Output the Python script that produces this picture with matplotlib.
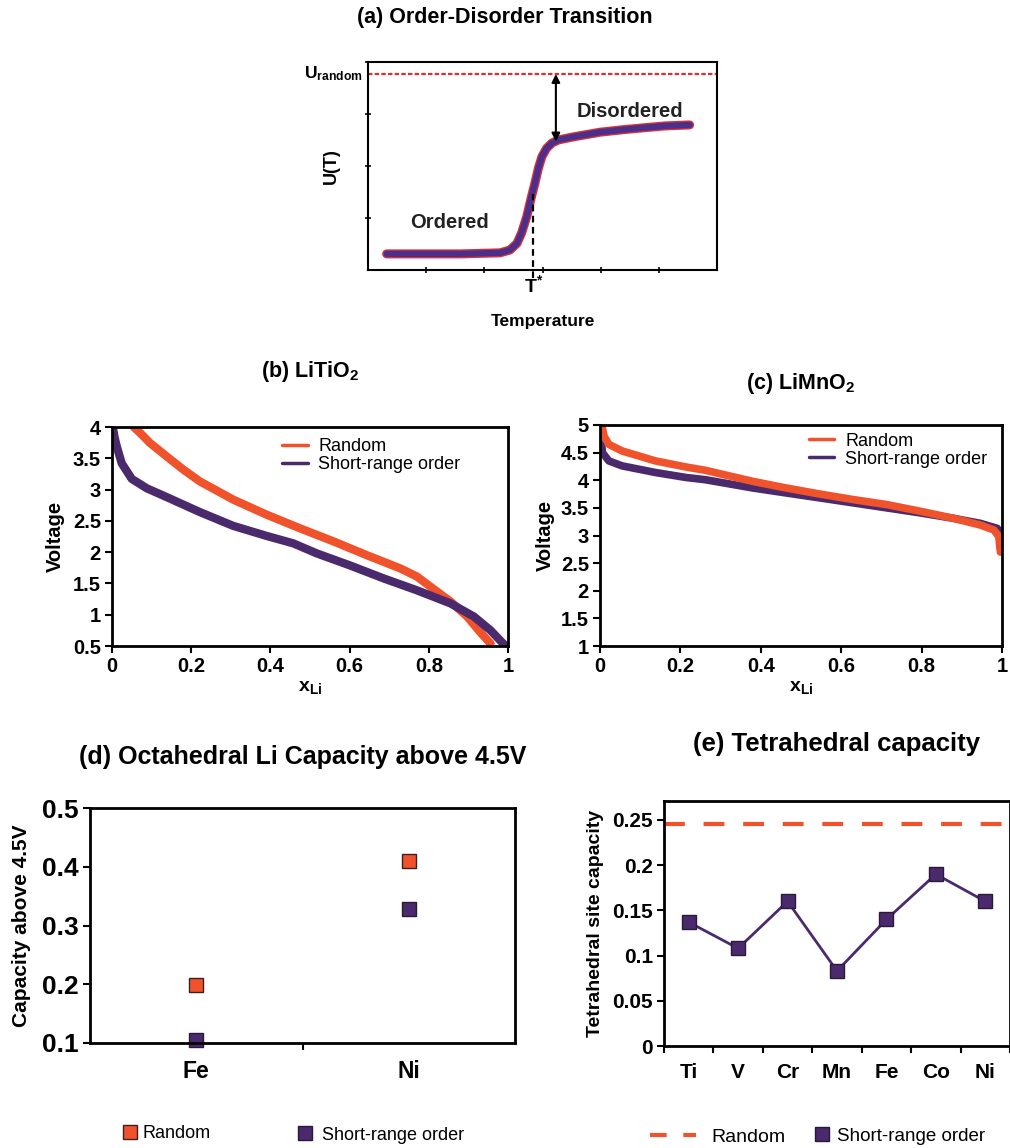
import matplotlib
matplotlib.use("Agg")
import matplotlib.pyplot as plt
from matplotlib.lines import Line2D

plt.rcParams['font.family'] = ['Liberation Sans', 'DejaVu Sans']
plt.rcParams['mathtext.fontset'] = 'custom'
plt.rcParams['mathtext.rm'] = 'Liberation Sans'
plt.rcParams['mathtext.bf'] = 'Liberation Sans:bold'
plt.rcParams['mathtext.it'] = 'Liberation Sans:italic'

RED = '#f0532c'
PURPLE = '#4a2a6c'

# DATA
# ==========================================
# (a) schematic U(T)
temp_a = [0.32, 1.0, 1.6, 1.93, 2.27, 2.44, 2.56, 2.64, 2.73, 2.81, 2.87, 2.93, 2.99, 3.07,
          3.16, 3.27, 3.53, 3.99, 4.4, 4.79, 5.1, 5.53]
u_a = [0.31, 0.31, 0.31, 0.32, 0.33, 0.385, 0.51, 0.71, 1.03, 1.41, 1.67, 1.96, 2.18, 2.34,
       2.44, 2.50, 2.56, 2.65, 2.70, 2.74, 2.77, 2.79]
u_random = 3.77
t_star = 2.84

# (b) LiTiO2
x_b_rand = [0.055, 0.075, 0.095, 0.138, 0.18, 0.222, 0.306, 0.39, 0.475, 0.56, 0.644, 0.728,
            0.77, 0.81, 0.855, 0.897, 0.93, 0.956]
v_b_rand = [4.0, 3.88, 3.75, 3.53, 3.32, 3.13, 2.84, 2.6, 2.38, 2.17, 1.95, 1.74,
            1.61, 1.42, 1.21, 0.97, 0.72, 0.54]
x_b_sro = [0.002, 0.006, 0.012, 0.0245, 0.05, 0.088, 0.138, 0.222, 0.306, 0.39, 0.458, 0.517,
           0.6, 0.686, 0.77, 0.855, 0.914, 0.956, 0.98, 0.994]
v_b_sro = [4.0, 3.85, 3.69, 3.42, 3.17, 3.02, 2.88, 2.64, 2.42, 2.26, 2.14, 1.98,
           1.79, 1.58, 1.39, 1.18, 0.97, 0.75, 0.59, 0.5]

# (c) LiMnO2
x_c_rand = [0.002, 0.006, 0.01, 0.022, 0.055, 0.138, 0.214, 0.262, 0.38, 0.463, 0.547, 0.63,
            0.713, 0.796, 0.88, 0.946, 0.98, 0.992, 0.996]
v_c_rand = [5.0, 4.95, 4.8, 4.65, 4.53, 4.35, 4.24, 4.18, 3.98, 3.86, 3.75, 3.65,
            3.56, 3.44, 3.31, 3.19, 3.1, 2.98, 2.7]
x_c_sro = [0.002, 0.004, 0.006, 0.022, 0.055, 0.138, 0.214, 0.262, 0.38, 0.463, 0.547, 0.63,
           0.713, 0.796, 0.88, 0.946, 0.988, 1.0]
v_c_sro = [4.78, 4.68, 4.5, 4.35, 4.26, 4.14, 4.05, 4.01, 3.86, 3.77, 3.68, 3.59,
           3.5, 3.41, 3.31, 3.22, 3.13, 3.03]

# (d) octahedral capacity above 4.5V
metals_d = ['Fe', 'Ni']
cap_d_rand = [0.198, 0.41]
cap_d_sro = [0.105, 0.328]

# (e) tetrahedral capacity
metals_e = ['Ti', 'V', 'Cr', 'Mn', 'Fe', 'Co', 'Ni']
tet_sro = [0.137, 0.108, 0.16, 0.083, 0.14, 0.19, 0.16]
tet_random = 0.246

W, H = 1010, 1148
fig = plt.figure(figsize=(W / 100, H / 100), dpi=100)


def ax_px(l, t, r, b):
    return fig.add_axes([l / W, 1 - b / H, (r - l) / W, (b - t) / H])


def style(ax, size=14.5, lw=2.0):
    for s in ax.spines.values():
        s.set_linewidth(lw)
        s.set_color('black')
    ax.tick_params(width=1.5, length=5, labelsize=size, pad=3)
    for lab in ax.get_xticklabels() + ax.get_yticklabels():
        lab.set_fontweight('bold')


# (a) ORDER-DISORDER
# ==========================================
ax = ax_px(368, 62, 717, 270)
ax.set_xlim(0, 6)
ax.set_ylim(0, 4)
ax.set_xticks([1, 2, 3, 4, 5])
ax.set_yticks([1, 2, 3, 4])
ax.set_xticklabels([])
ax.set_yticklabels([])
for s in ax.spines.values():
    s.set_linewidth(1.5)
ax.tick_params(direction='inout', length=5, width=1.2)
ax.axhline(u_random, color='#d8303a', lw=1.6, ls=(0, (2, 1)))
ax.plot(temp_a, u_a, color='#d8303a', lw=6.5, solid_capstyle='round', solid_joinstyle='round')
ax.plot(temp_a, u_a, color='#4b2f8a', lw=4.5, solid_capstyle='round', solid_joinstyle='round')
ax.plot([t_star, t_star], [-0.15, 1.47], color='black', lw=1.6, ls=(0, (3, 2)), clip_on=False)
ax.annotate('', xy=(3.23, 2.47), xytext=(3.23, u_random),
            arrowprops=dict(arrowstyle='<|-|>', lw=1.5, color='black', mutation_scale=12,
                            shrinkA=0, shrinkB=0))
ax.text(1.4, 0.8, 'Ordered', fontsize=14.5, fontweight='bold', color='#222222', ha='center')
ax.text(4.5, 2.95, 'Disordered', fontsize=14.5, fontweight='bold', color='#222222', ha='center')
ax.text(-0.015, u_random, r'U$_{\mathbf{random}}$', fontsize=12.5, fontweight='bold',
        ha='right', va='center', transform=ax.get_yaxis_transform())
ax.text(t_star, -0.08, r'T$^{\mathbf{*}}$', fontsize=14, fontweight='bold', ha='center', va='top')
ax.set_ylabel('U(T)', fontsize=13, fontweight='bold', labelpad=14)
ax.set_xlabel('Temperature', fontsize=12.5, fontweight='bold', labelpad=26)
fig.text(505 / W, 1 - 18 / H, '(a) Order-Disorder Transition', fontsize=15.5,
         fontweight='bold', ha='center', va='center')

# (b) LiTiO2
# ==========================================
ax = ax_px(112, 427, 508, 646)
ax.plot(x_b_rand, v_b_rand, color=RED, lw=6, label='Random', solid_capstyle='round')
ax.plot(x_b_sro, v_b_sro, color=PURPLE, lw=6, label='Short-range order', solid_capstyle='round')
ax.set_xlim(0, 1)
ax.set_ylim(0.5, 4)
ax.set_xticks([0, 0.2, 0.4, 0.6, 0.8, 1])
ax.set_xticklabels(['0', '0.2', '0.4', '0.6', '0.8', '1'])
ax.set_yticks([0.5, 1, 1.5, 2, 2.5, 3, 3.5, 4])
ax.set_yticklabels(['0.5', '1', '1.5', '2', '2.5', '3', '3.5', '4'])
style(ax)
ax.set_ylabel('Voltage', fontsize=14.5, fontweight='bold', labelpad=6)
ax.set_xlabel(r'x$_{\mathbf{Li}}$', fontsize=14, fontweight='bold', labelpad=2)
leg = ax.legend(loc='upper left', bbox_to_anchor=(0.43, 0.95), frameon=False, fontsize=13,
                handlelength=1.4, handletextpad=0.6, labelspacing=0.05, borderpad=0,
                borderaxespad=0)
for h in leg.get_lines():
    h.set_linewidth(2.5)
ax.set_title(r'(b) LiTiO$_{\mathbf{2}}$', fontsize=15.5, fontweight='bold', pad=36)

# (c) LiMnO2
# ==========================================
ax = ax_px(600, 425, 1002, 646)
ax.plot(x_c_rand, v_c_rand, color=RED, lw=5.5, label='Random', solid_capstyle='round')
ax.plot(x_c_sro, v_c_sro, color=PURPLE, lw=5.5, label='Short-range order', solid_capstyle='round',
        zorder=1.9)
ax.set_xlim(0, 1)
ax.set_ylim(1, 5)
ax.set_xticks([0, 0.2, 0.4, 0.6, 0.8, 1])
ax.set_xticklabels(['0', '0.2', '0.4', '0.6', '0.8', '1'])
ax.set_yticks([1, 1.5, 2, 2.5, 3, 3.5, 4, 4.5, 5])
ax.set_yticklabels(['1', '1.5', '2', '2.5', '3', '3.5', '4', '4.5', '5'])
style(ax)
ax.set_ylabel('Voltage', fontsize=14.5, fontweight='bold', labelpad=4)
ax.set_xlabel(r'x$_{\mathbf{Li}}$', fontsize=14, fontweight='bold', labelpad=2)
leg = ax.legend(loc='upper left', bbox_to_anchor=(0.52, 0.965), frameon=False, fontsize=13,
                handlelength=1.4, handletextpad=0.6, labelspacing=0.05, borderpad=0,
                borderaxespad=0)
for h in leg.get_lines():
    h.set_linewidth(2.5)
ax.set_title(r'(c) LiMnO$_{\mathbf{2}}$', fontsize=15.5, fontweight='bold', pad=26)

# (d) OCTAHEDRAL CAPACITY
# ==========================================
ax = ax_px(90, 808, 515, 1043)
xd = range(len(metals_d))
ax.plot(xd, cap_d_rand, ls='none', marker='s', ms=10, mfc=RED, mec='#3a2020', mew=1, clip_on=False)
ax.plot(xd, cap_d_sro, ls='none', marker='s', ms=10, mfc=PURPLE, mec='#2a1a3a', mew=1, clip_on=False)
ax.set_xlim(-0.5, 1.5)
ax.set_ylim(0.1, 0.5)
ax.set_xticks([0.5])
ax.set_xticklabels([])
ax.set_xticks(list(xd), minor=True)
ax.set_xticklabels(metals_d, minor=True)
ax.set_yticks([0.1, 0.2, 0.3, 0.4, 0.5])
style(ax, size=19)
ax.tick_params(axis='x', which='minor', length=0, pad=12, labelsize=16.5)
for lab in ax.get_xticklabels(minor=True):
    lab.set_fontweight('bold')
ax.set_ylabel('Capacity above 4.5V', fontsize=15, fontweight='bold', labelpad=8)
ax.set_title('(d) Octahedral Li Capacity above 4.5V', fontsize=18, fontweight='bold', pad=32)
h1 = Line2D([], [], ls='none', marker='s', ms=10, mfc=RED, mec='#3a2020', mew=1)
h2 = Line2D([], [], ls='none', marker='s', ms=10, mfc=PURPLE, mec='#2a1a3a', mew=1)
fig.legend([h1], ['Random'], loc='center left', bbox_to_anchor=(105 / W, 1 - 1134 / H),
           frameon=False, fontsize=13, handletextpad=0.2, handlelength=1.0)
fig.legend([h2], ['Short-range order'], loc='center left', bbox_to_anchor=(280 / W, 1 - 1135 / H),
           frameon=False, fontsize=13, handletextpad=0.4, handlelength=1.0)

# (e) TETRAHEDRAL CAPACITY
# ==========================================
ax = ax_px(664, 801, 1010, 1046)
xe = range(len(metals_e))
ax.axhline(tet_random, color=RED, lw=3, ls=(0, (5, 4.5)))
ax.plot(xe, tet_sro, color=PURPLE, lw=2, marker='s', ms=10, mfc=PURPLE, mec='#2a1a3a', mew=1)
ax.set_xlim(-0.5, 6.5)
ax.set_ylim(0, 0.271)
ax.set_xticks([i - 0.5 for i in range(8)])
ax.set_xticklabels([])
ax.set_xticks(list(xe), minor=True)
ax.set_xticklabels(metals_e, minor=True)
ax.set_yticks([0, 0.05, 0.1, 0.15, 0.2, 0.25])
ax.set_yticklabels(['0', '0.05', '0.1', '0.15', '0.2', '0.25'])
style(ax, size=15)
ax.tick_params(axis='x', which='minor', length=0, pad=12, labelsize=15)
for lab in ax.get_xticklabels(minor=True):
    lab.set_fontweight('bold')
ax.set_ylabel('Tetrahedral site capacity', fontsize=14, fontweight='bold', labelpad=6)
ax.set_title('(e) Tetrahedral capacity', fontsize=18.5, fontweight='bold', pad=36)
h3 = Line2D([], [], color=RED, lw=3, ls=(0, (4, 4)))
h4 = Line2D([], [], ls='none', marker='s', ms=10, mfc=PURPLE, mec='#2a1a3a', mew=1)
fig.legend([h3], ['Random'], loc='center left', bbox_to_anchor=(632 / W, 1 - 1137 / H),
           frameon=False, fontsize=14, handlelength=2.4, handletextpad=0.8)
fig.legend([h4], ['Short-range order'], loc='center left', bbox_to_anchor=(796 / W, 1 - 1136 / H),
           frameon=False, fontsize=13.5, handlelength=1.0, handletextpad=0.3)

fig.savefig('out.png', dpi=100)
